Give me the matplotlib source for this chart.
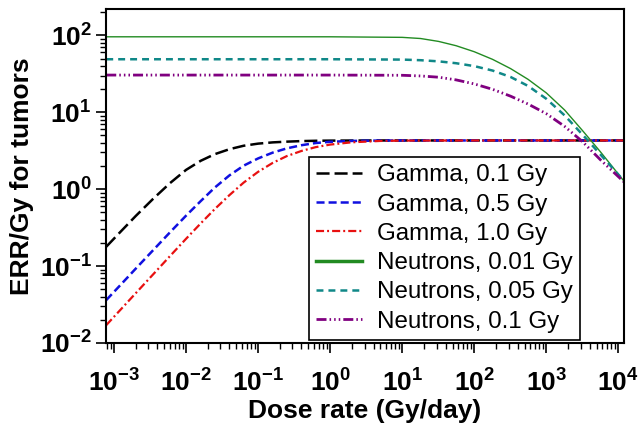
import matplotlib
matplotlib.use('Agg')
import matplotlib.pyplot as plt
from matplotlib.ticker import LogLocator

# dose rates (Gy/day) and ERR/Gy
gamma_rate = [7.8e-4, 1.2e-3, 2e-3, 3.5e-3, 6e-3, 1e-2, 1.6e-2, 2.5e-2, 4e-2, 6.3e-2,
              0.1, 0.16, 0.25, 0.4, 0.63, 1, 2, 5, 10, 100, 1000, 1.2e4]
gamma_01 = [0.178, 0.272, 0.447, 0.75, 1.20, 1.78, 2.34, 2.85, 3.31, 3.67,
            3.91, 4.06, 4.15, 4.22, 4.26, 4.28, 4.29, 4.3, 4.3, 4.3, 4.3, 4.3]
gamma_05 = [0.036, 0.0553, 0.0923, 0.161, 0.275, 0.452, 0.70, 1.047, 1.51, 2.02,
            2.51, 2.99, 3.39, 3.73, 3.98, 4.13, 4.24, 4.29, 4.3, 4.3, 4.3, 4.3]
gamma_10 = [0.017, 0.0263, 0.0442, 0.078, 0.135, 0.226, 0.359, 0.55, 0.836, 1.216,
            1.68, 2.20, 2.69, 3.14, 3.52, 3.80, 4.07, 4.24, 4.28, 4.3, 4.3, 4.3]

neut_rate = [7.8e-4, 1, 10, 18, 32, 56, 100, 180, 320, 560, 1000, 1800, 3200, 5600, 1.2e4]
neut_001 = [96, 96, 94.4, 91.2, 83.6, 73.5, 61.4, 48.8, 37.0, 26.8, 17.9, 10.7, 5.75, 3.09, 1.27]
neut_005 = [49, 49, 48.5, 47.6, 46.0, 43.5, 39.9, 34.9, 28.8, 22.0, 15.0, 9.1, 5.1, 2.85, 1.28]
neut_01 = [30.5, 30.5, 30.3, 29.7, 28.6, 26.4, 23.4, 19.9, 16.2, 12.8, 9.6, 6.55, 4.13, 2.43, 1.24]

x_ticks = [1e-3, 1e-2, 1e-1, 1, 10, 100, 1000, 1e4]
y_ticks = [1e-2, 1e-1, 1, 10, 100]

plt.rcParams['font.family'] = 'Liberation Sans'
plt.rcParams['font.weight'] = 'bold'
plt.rcParams['lines.scale_dashes'] = False
plt.rcParams['axes.unicode_minus'] = False

fig = plt.figure(figsize=(6.4, 4.34), dpi=100)
ax = fig.add_axes([0.166, 0.21, 0.809, 0.769])

ax.plot(gamma_rate, gamma_01, color='black', lw=1.8, dashes=(9.4, 3.6), label='Gamma, 0.1 Gy')
ax.plot(gamma_rate, gamma_05, color='#1010e0', lw=1.8, dashes=(5.8, 2.9), label='Gamma, 0.5 Gy')
ax.plot(gamma_rate, gamma_10, color='#e81010', lw=1.6, dashes=(5.8, 2.2, 1.4, 2.2), label='Gamma, 1.0 Gy')
ax.plot(neut_rate, neut_001, color='#228b22', lw=1.0, label='Neutrons, 0.01 Gy')
ax.plot(neut_rate, neut_005, color='#108888', lw=1.8, dashes=(5, 3.6), label='Neutrons, 0.05 Gy')
ax.plot(neut_rate, neut_01, color='#800080', lw=2.0,
        dashes=(7.2, 2.2, 1.1, 2.2, 1.1, 2.2, 1.1, 2.2), label='Neutrons, 0.1 Gy')

ax.set_xscale('log')
ax.set_yscale('log')
ax.set_xlim(7.8e-4, 1.2e4)
ax.set_ylim(1e-2, 2.2e2)
ax.set_xticks(x_ticks)
ax.set_yticks(y_ticks)
ax.xaxis.set_minor_locator(LogLocator(base=10, subs=range(2, 10), numticks=100))
ax.yaxis.set_minor_locator(LogLocator(base=10, subs=range(2, 10), numticks=100))
ax.tick_params(which='major', direction='out', length=7, width=1.2, labelsize=19,
               top=False, right=False)
ax.tick_params(which='minor', direction='out', length=4, width=1, top=False, right=False)
ax.tick_params(axis='x', which='major', pad=12)
for s in ax.spines.values():
    s.set_linewidth(1.5)

ax.set_xlabel('Dose rate (Gy/day)', fontsize=19, fontweight='bold', labelpad=2)
ax.set_ylabel('ERR/Gy for tumors', fontsize=19, fontweight='bold')

leg = ax.legend(loc='lower right', bbox_to_anchor=(0.915, 0.009),
                prop={'weight': 'normal', 'size': 17.4}, fancybox=False,
                edgecolor='black', framealpha=1, handlelength=1.9, handletextpad=0.6,
                labelspacing=0.3, borderpad=0.3, borderaxespad=0)
leg.get_frame().set_linewidth(1.2)
leg.get_lines()[3].set_linewidth(2.5)

fig.savefig('out.png', dpi=100)
